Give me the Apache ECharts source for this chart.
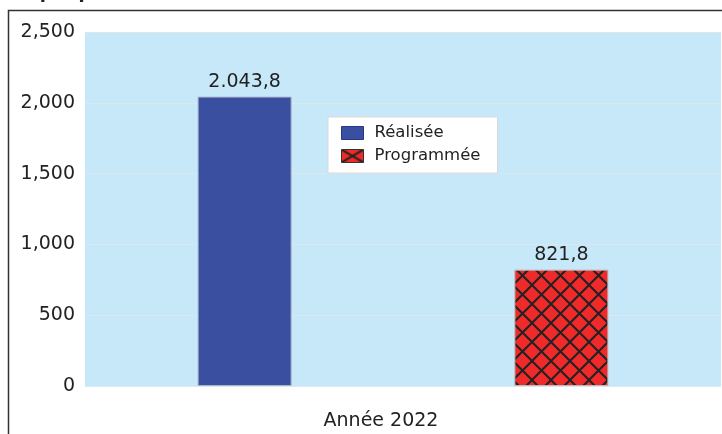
<!DOCTYPE html>
<html>
<head>
<meta charset="utf-8">
<script src="https://cdn.jsdelivr.net/npm/echarts@6/dist/echarts.min.js"></script>
<style>
  html, body { margin: 0; padding: 0; background: #ffffff; }
  #chart { width: 722px; height: 434px; }
</style>
</head>
<body>
<div id="chart"></div>
<script>
// Base monétaire : réalisation contre programme
const categories = ['Année 2022'];
const seriesNames = ['Réalisée', 'Programmée'];
const realisee = [2043.8];
const programmee = [821.8];
const yTicks = [0, 500, 1000, 1500, 2000, 2500];
const titleText = 'Graphique 3 : Variation de la base monétaire (en milliards de KMF)';

const FONT = 'DejaVu Sans';
const RED = '#ee2a2a';
const BLUE = '#3a4fa0';

// Crosshatch tile for the programme bar
function hatchTile(size) {
  const c = document.createElement('canvas');
  c.width = size; c.height = size;
  const g = c.getContext('2d');
  g.fillStyle = RED;
  g.fillRect(0, 0, size, size);
  g.strokeStyle = '#222222';
  g.lineWidth = 2;
  g.beginPath();
  g.moveTo(-1, -1); g.lineTo(size + 1, size + 1);
  g.moveTo(size + 1, -1); g.lineTo(-1, size + 1);
  g.stroke();
  return c;
}

// Single X swatch for the legend icon
function crossSwatch(w, h) {
  const c = document.createElement('canvas');
  c.width = w; c.height = h;
  const g = c.getContext('2d');
  g.fillStyle = RED;
  g.fillRect(0, 0, w, h);
  g.strokeStyle = '#222222';
  g.lineWidth = 2;
  g.beginPath();
  g.moveTo(0, 0); g.lineTo(w, h);
  g.moveTo(w, 0); g.lineTo(0, h);
  g.stroke();
  return c;
}

// "2.043,8" style: dot for thousands, comma for decimals
function frNumber(v) {
  const parts = v.toFixed(1).split('.');
  return parts[0].replace(/\B(?=(\d{3})+(?!\d))/g, '.') + ',' + parts[1];
}
// "2,500" style for the axis
function axisNumber(v) {
  return String(v).replace(/\B(?=(\d{3})+(?!\d))/g, ',');
}

const chart = echarts.init(document.getElementById('chart'), null, { renderer: 'canvas' });

const barLabel = {
  show: true,
  position: 'top',
  distance: 5,
  fontFamily: FONT,
  fontSize: 19,
  color: '#222222',
  formatter: p => frNumber(p.value)
};

chart.setOption({
  animation: false,
  textStyle: { fontFamily: FONT },
  graphic: [
    {
      type: 'rect',
      shape: { x: 8.5, y: 10.5, width: 800, height: 600 },
      style: { fill: 'none', stroke: '#333333', lineWidth: 1.5 },
      silent: true,
      z: 100
    },
    {
      type: 'text',
      left: 4,
      top: -16,
      style: {
        text: titleText,
        font: 'bold 18px "DejaVu Sans"',
        fill: '#222222'
      },
      silent: true
    }
  ],
  legend: {
    orient: 'vertical',
    left: 328,
    top: 117,
    backgroundColor: '#ffffff',
    borderColor: '#d9d9d9',
    borderWidth: 1,
    padding: [7, 17, 8, 13],
    itemWidth: 22,
    itemHeight: 13,
    itemGap: 5,
    icon: 'rect',
    textStyle: {
      fontFamily: FONT,
      fontSize: 16.5,
      color: '#222222',
      lineHeight: 18,
      padding: [0, 0, 0, 6]
    },
    data: [
      { name: seriesNames[0], itemStyle: { color: BLUE, borderColor: '#26378a', borderWidth: 1 } },
      { name: seriesNames[1], itemStyle: { color: { image: crossSwatch(22, 13), repeat: 'repeat' }, borderColor: '#333333', borderWidth: 1 } }
    ]
  },
  grid: {
    left: 85,
    right: 1,
    top: 32,
    bottom: 48,
    show: true,
    backgroundColor: '#c6e8f8',
    borderWidth: 0
  },
  xAxis: {
    type: 'category',
    data: categories,
    axisLine: { show: false },
    axisTick: { show: false },
    axisLabel: {
      fontFamily: FONT,
      fontSize: 19,
      color: '#222222',
      margin: 26,
      padding: [0, 44, 0, 0]
    }
  },
  yAxis: {
    type: 'value',
    min: yTicks[0],
    max: yTicks[yTicks.length - 1],
    interval: yTicks[1] - yTicks[0],
    axisLine: { show: false },
    axisTick: { show: false },
    splitLine: { show: true, lineStyle: { color: '#dbe8ee', width: 1 } },
    axisLabel: {
      fontFamily: FONT,
      fontSize: 19,
      color: '#222222',
      margin: 10,
      formatter: v => axisNumber(v)
    }
  },
  series: [
    {
      name: seriesNames[0],
      type: 'bar',
      data: realisee,
      barWidth: 94,
      barGap: '237%',
      itemStyle: { color: BLUE, borderColor: '#aab4c8', borderWidth: 1 },
      label: barLabel
    },
    {
      name: seriesNames[1],
      type: 'bar',
      data: programmee,
      barWidth: 94,
      itemStyle: {
        color: { image: hatchTile(19), repeat: 'repeat' },
        borderColor: '#b8b8b8',
        borderWidth: 1
      },
      label: barLabel
    }
  ]
});
</script>
</body>
</html>
